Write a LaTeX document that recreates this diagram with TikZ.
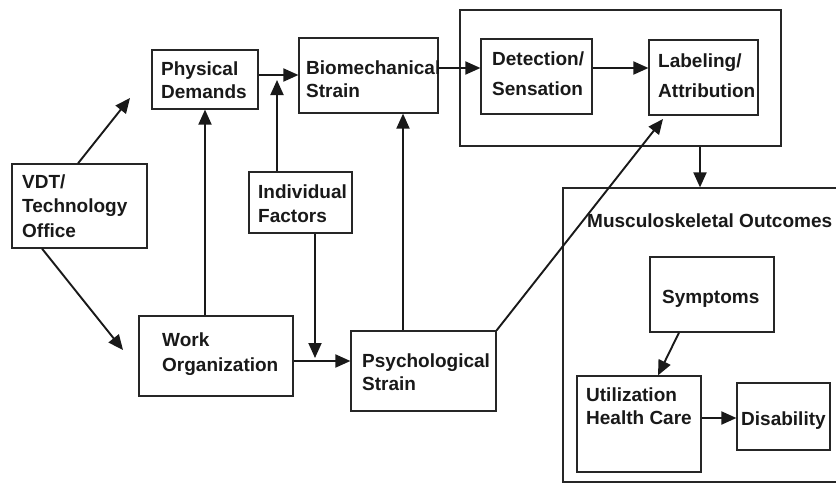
\documentclass[tikz,border=0pt]{standalone}
\usepackage{fontspec}
\setmainfont{Liberation Sans}
\usetikzlibrary{arrows.meta,calc,fit}
\begin{document}
\begin{tikzpicture}[x=1pt,y=-1pt,
  box/.style={draw=black!85, line width=1.2pt, inner sep=0pt},
  txt/.style={font=\fontsize{19}{23}\selectfont\bfseries, text=black!90, align=left, inner sep=0pt, anchor=west},
  arr/.style={draw=black!90, line width=1.9pt, -{Triangle[length=15pt,width=13pt]}}]
\clip (0,0) rectangle (836,485);
\useasboundingbox (0,0) rectangle (836,485);
\fill[white] (0,0) rectangle (836,485);

% boxes
\node[box, fit={(12,164) (147,248)}] (vdt) {};
\node[box, fit={(152,50) (258,109)}] (pd) {};
\node[box, fit={(299,38) (438,113)}] (bio) {};
\node[box, fit={(249,172) (352,233)}] (ind) {};
\node[box, fit={(139,316) (293,396)}] (work) {};
\node[box, fit={(351,331) (496,411)}] (psy) {};
\node[box, fit={(460,10) (781,146)}] (grp) {};
\node[box, fit={(481,39) (592,114)}] (det) {};
\node[box, fit={(649,40) (758,115)}] (lab) {};
\node[box, fit={(563,188) (845,482)}] (outc) {};
\node[box, fit={(650,257) (774,332)}] (sym) {};
\node[box, fit={(577,376) (701,472)}] (util) {};
\node[box, fit={(737,383) (830,450)}] (dis) {};

% labels
\node[txt] (vdtt) at (22,206) {VDT/\\[1.5pt]Technology\\[1.5pt]Office};
\node[txt] (pdt) at (161,80.5) {Physical\\Demands};
\node[txt] (biot) at (306,79) {Biomechanical\\Strain};
\node[txt] (indt) at (258,204) {Individual\\[1pt]Factors};
\node[txt] (workt) at (162,354.5) {Work\\[2pt]Organization};
\node[txt] (psyt) at (362,372) {Psychological\\Strain};
\node[txt] (dett) at (492,73.5) {Detection/\\[7pt]Sensation};
\node[txt] (labt) at (658,76) {Labeling/\\[7pt]Attribution};
\node[txt] (outct) at (587,221) {Musculoskeletal Outcomes};
\node[txt] (symt) at (662,298.5) {Symptoms};
\node[txt] (utilt) at (586,406.5) {Utilization\\Health Care};
\node[txt] (dist) at (741,420.5) {Disability};

% free ends and junctions of connectors
\coordinate (e1) at (130,98);
\coordinate (e2) at (123,350);
\coordinate (jx) at (277,75);
\coordinate (jt) at (277,80);
\coordinate (kx) at (315,361);
\coordinate (kt) at (315,358);
\coordinate (px) at (403,0);
\coordinate (dx) at (0,68);
\coordinate (ox) at (700,0);
\coordinate (lt) at (663,119);
\coordinate (ux) at (0,418);

% connectors
\draw[arr] (vdt.north -| 78,0) -- (e1);
\draw[arr] (vdt.south -| 42,0) -- (e2);
\draw[arr] (work.north -| pd.south) -- (pd.south);
\draw[arr] (pd.east |- jx) -- (bio.west |- jx);
\draw[arr] (ind.north -| jt) -- (jt);
\draw[arr] (ind.south -| kt) -- (kt);
\draw[arr] (work.east |- kx) -- (psy.west |- kx);
\draw[arr] (psy.north -| px) -- (bio.south -| px);
\draw[arr] (bio.east |- dx) -- (det.west |- dx);
\draw[arr] (det.east |- dx) -- (lab.west |- dx);
\draw[arr] (psy.north east) -- (lt);
\draw[arr] (grp.south -| ox) -- (outc.north -| ox);
\draw[arr] (sym.south -| 679,0) -- (util.north -| 658,0);
\draw[arr] (util.east |- ux) -- (dis.west |- ux);
\end{tikzpicture}
\end{document}
